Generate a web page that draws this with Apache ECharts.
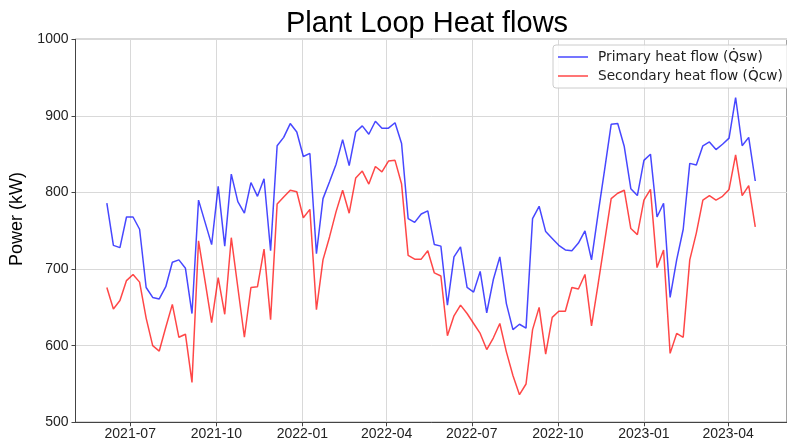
<!DOCTYPE html>
<html>
<head>
<meta charset="utf-8">
<script src="https://cdn.jsdelivr.net/npm/echarts@6/dist/echarts.min.js"></script>
<style>
  html, body { margin: 0; padding: 0; background: #fff; }
  #chart { width: 787px; height: 445px; }
</style>
</head>
<body>
<div id="chart"></div>
<script>
// weekly readings, first week starting 2021-06-06
var startDate = '2021-06-06';

var primary = [
  786, 731, 728, 768, 768, 752, 676, 663, 661, 677,
  709, 712, 701, 642, 790, 761, 732, 808, 730, 824,
  788, 773, 813, 795, 818, 724, 861, 872, 890, 879,
  847, 851, 720, 792, 814, 837, 869, 835, 879, 887,
  876, 893, 884, 884, 891, 864, 766, 761, 772, 776,
  732, 730, 653, 716, 729, 676, 670, 697, 643, 686,
  716, 655, 621, 628, 623, 766, 782, 749, 740, 731,
  725, 724, 734, 750, 712, 772, 830, 889, 890, 860,
  805, 796, 842, 850, 768, 786, 663, 712, 752, 838,
  836, 861, 866, 856, 863, 871, 924, 861, 872, 815
];

var secondary = [
  676, 648, 659, 685, 693, 683, 636, 600, 593, 624,
  654, 611, 615, 552, 737, 684, 630, 689, 641, 741,
  676, 611, 676, 677, 726, 634, 785, 794, 803, 801,
  767, 778, 647, 712, 742, 775, 803, 773, 819, 828,
  811, 834, 827, 841, 842, 811, 718, 713, 713, 724,
  695, 691, 613, 639, 653, 642, 629, 616, 595, 610,
  629, 592, 561, 536, 550, 621, 650, 589, 637, 645,
  645, 676, 674, 693, 626, 680, 736, 792, 799, 803,
  753, 745, 790, 804, 702, 725, 590, 616, 611, 712,
  747, 790, 796, 790, 795, 804, 849, 796, 809, 755
];

var names = ['Primary heat flow (Q\u0307sw)', 'Secondary heat flow (Q\u0307cw)'];

// build weekly timestamps
var dates = [];
var d0 = new Date(startDate + 'T00:00:00');
for (var i = 0; i < primary.length; i++) {
  var d = new Date(d0.getFullYear(), d0.getMonth(), d0.getDate() + 7 * i);
  dates.push(d.getTime());
}

function pairs(vals) {
  return vals.map(function (v, i) { return [dates[i], v]; });
}

var myChart = echarts.init(document.getElementById('chart'));

var option = {
  backgroundColor: '#fff',
  animation: false,
  title: {
    text: 'Plant Loop Heat flows',
    left: 281,
    top: 4,
    textStyle: {
      fontFamily: 'Liberation Sans',
      fontSize: 29,
      fontWeight: 'normal',
      color: '#000'
    }
  },
  // y axis title, sits a bit above the plot centre like the original
  graphic: [{
    type: 'text',
    x: 17,
    y: 219,
    rotation: Math.PI / 2,
    style: {
      text: 'Power (kW)',
      fontFamily: 'Liberation Sans',
      fontSize: 18,
      fill: '#000',
      align: 'center',
      verticalAlign: 'middle'
    }
  }],
  legend: {
    orient: 'vertical',
    left: 553,
    top: 45,
    padding: [5, 8, 5, 5],
    itemGap: 5,
    itemWidth: 30,
    itemHeight: 1.5,
    icon: 'rect',
    borderColor: '#ccc',
    borderWidth: 1,
    borderRadius: 3,
    backgroundColor: 'rgba(255,255,255,0.85)',
    textStyle: {
      fontFamily: 'DejaVu Sans',
      fontSize: 13.7,
      color: '#222',
      padding: [0, 0, 0, 5]
    },
    data: names
  },
  grid: {
    left: 75.5,
    right: -10,
    top: 39.3,
    bottom: 22.7,
    show: true,
    borderColor: '#444',
    borderWidth: 1,
    containLabel: false
  },
  xAxis: {
    type: 'time',
    min: new Date(2021, 4, 3, 12).getTime(),
    max: new Date(2023, 5, 2, 22).getTime(),
    splitNumber: 8,
    axisLine: { lineStyle: { color: '#444' } },
    axisTick: { show: true, length: 4, lineStyle: { color: '#444' } },
    axisLabel: {
      fontFamily: 'Liberation Sans',
      fontSize: 14,
      color: '#222',
      margin: 5,
      showMinLabel: false,
      showMaxLabel: false,
      formatter: function (v) {
        return echarts.time.format(v, '{yyyy}-{MM}', false);
      }
    },
    splitLine: { show: true, lineStyle: { color: '#d9d9d9', width: 1 } }
  },
  yAxis: {
    type: 'value',
    min: 500,
    max: 1000,
    interval: 100,
    axisLine: { show: true, lineStyle: { color: '#444' } },
    axisTick: { show: true, length: 4, lineStyle: { color: '#444' } },
    axisLabel: {
      fontFamily: 'Liberation Sans',
      fontSize: 14,
      color: '#222',
      margin: 7,
      formatter: function (v) { return String(v); }
    },
    splitLine: { show: true, lineStyle: { color: '#d9d9d9', width: 1 } }
  },
  series: [
    {
      name: names[0],
      type: 'line',
      symbol: 'none',
      color: 'rgba(0,0,255,0.72)',
      lineStyle: { width: 1.5 },
      data: pairs(primary)
    },
    {
      name: names[1],
      type: 'line',
      symbol: 'none',
      color: 'rgba(255,0,0,0.72)',
      lineStyle: { width: 1.5 },
      data: pairs(secondary)
    }
  ]
};

myChart.setOption(option);
window.addEventListener('resize', function () {
  myChart.resize();
});
</script>
</body>
</html>
